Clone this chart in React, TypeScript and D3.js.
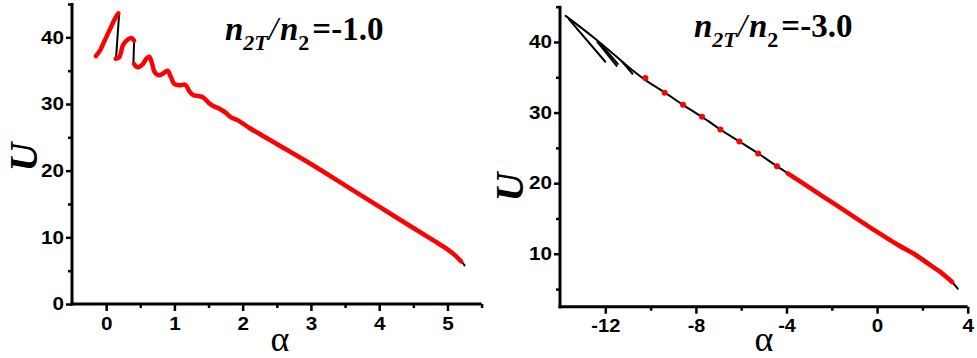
import React, { useRef, useEffect } from "react";
import * as d3 from "d3";

type Pt = [number, number];

const W = 977;
const H = 358;

// left panel (n2T/n2 = -1.0)
const leftRedA: Pt[] = [[-0.15, 37.2], [-0.09, 38.0], [-0.04, 39.1], [0.06, 41.3], [0.13, 42.8], [0.18, 43.6]];
const leftRedB: Pt[] = [[0.14, 36.8], [0.19, 37.0], [0.25, 38.9], [0.32, 39.7], [0.37, 39.9], [0.41, 39.5]];
const leftRedC: Pt[] = [
  [0.41, 36.0], [0.46, 35.5], [0.53, 35.9], [0.59, 36.8], [0.63, 37.1], [0.67, 36.2], [0.71, 34.8],
  [0.77, 34.3], [0.84, 34.6], [0.9, 35.0], [0.95, 34.0], [1.0, 33.0], [1.08, 32.8], [1.16, 32.9],
  [1.22, 31.9], [1.28, 31.3], [1.35, 31.2], [1.42, 31.0], [1.5, 30.2], [1.57, 29.7], [1.66, 29.3],
  [1.75, 28.7], [1.83, 28.0], [1.92, 27.6], [2.0, 27.1], [2.1, 26.4], [2.2, 25.8], [2.3, 25.2],
  [2.55, 23.7], [3.0, 21.0], [3.5, 17.8], [4.0, 14.6], [4.5, 11.4], [4.8, 9.5], [5.0, 8.2],
  [5.1, 7.4], [5.2, 6.4],
];
const leftBlack: Pt[][] = [
  [[0.19, 43.5], [0.145, 36.8]],
  [[0.41, 39.6], [0.4, 36.2]],
  [[5.18, 6.6], [5.22, 6.2], [5.25, 5.8]],
];
const leftXTicks = [0, 1, 2, 3, 4, 5];
const leftXMinor = [0.5, 1.5, 2.5, 3.5, 4.5, 5.5];
const leftYTicks = [0, 10, 20, 30, 40];
const leftYMinor = [5, 15, 25, 35, 45];

// right panel (n2T/n2 = -3.0)
const rightBlack: Pt[][] = [
  [
    [-13.75, 43.7], [-12.5, 40.6], [-11.5, 37.9], [-10.8, 36.0], [-10.23, 34.6], [-9.35, 32.8],
    [-8.57, 31.1], [-7.73, 29.4], [-6.92, 27.6], [-6.08, 25.9], [-5.25, 24.2], [-4.42, 22.4],
    [-3.9, 21.3], [-2, 17.3], [0, 13.1], [2, 9.4], [3.0, 6.9], [3.31, 6.0], [3.45, 5.5], [3.56, 5.05],
  ],
  [[-13.6, 43.2], [-12.0, 37.2]],
  [[-12.35, 40.0], [-11.5, 36.6]],
  [[-12.2, 39.7], [-11.45, 36.9]],
  [[-11.25, 37.2], [-10.8, 35.5]],
];
const rightRed: Pt[] = [
  [-3.95, 21.4], [-3, 19.4], [-2, 17.3], [-1, 15.2], [0, 13.1], [1, 11.1], [1.62, 10.0],
  [2.2, 8.7], [2.8, 7.4], [3.1, 6.6], [3.31, 6.0],
];
const rightDots: Pt[] = [
  [-10.23, 34.9], [-9.38, 32.8], [-8.57, 31.1], [-7.73, 29.4], [-6.92, 27.6], [-6.08, 25.9],
  [-5.25, 24.2], [-4.42, 22.4],
];
const rightXTicks = [-12, -8, -4, 0, 4];
const rightXMinor = [-10, -6, -2, 2];
const rightYTicks = [10, 20, 30, 40];
const rightYMinor = [5, 15, 25, 35, 45];

const RED = "#ff0000";

// widened tick labels like the original plot's stretched font
const labelLength = (s: string) => s.split("").reduce((w, c) => w + (c === "-" ? 6 : 11.5), 0);

const App = () => {
  const ref = useRef<SVGSVGElement>(null);

  useEffect(() => {
    const svg = d3.select(ref.current);
    svg.selectAll("*").remove();
    svg.append("rect").attr("width", W).attr("height", H).attr("fill", "#fff");

    const line = d3.line<Pt>().curve(d3.curveCatmullRom);

    const drawPanel = (p: any) => {
      const x = d3.scaleLinear().domain(p.xDomain).range([p.x0, p.x1]);
      const y = d3.scaleLinear().domain(p.yDomain).range([p.y1, p.y0]);
      line.x((d) => x(d[0])).y((d) => y(d[1]));
      const g = svg.append("g");

      const styleAxis = (a: any) => {
        a.select(".domain").remove();
        a.selectAll(".tick line").attr("stroke", "#000").attr("stroke-width", 2.5);
        a.selectAll("text")
          .attr("font-family", "Liberation Sans, Arial, sans-serif")
          .attr("font-weight", "bold")
          .attr("font-size", 18)
          .attr("fill", "#000")
          .each(function (this: any) {
            const s = this.textContent;
            if (s) d3.select(this).attr("textLength", labelLength(s)).attr("lengthAdjust", "spacingAndGlyphs");
          });
      };

      const xa = g.append("g").attr("transform", `translate(0,${p.y1})`);
      xa.call(d3.axisBottom(x).tickValues(p.xMinor).tickSize(4).tickFormat(() => ""));
      const xb = g.append("g").attr("transform", `translate(0,${p.y1})`);
      xb.call(d3.axisBottom(x).tickValues(p.xTicks).tickSize(7).tickPadding(6).tickFormat((d) => String(d)));
      styleAxis(xa);
      styleAxis(xb);

      const ya = g.append("g").attr("transform", `translate(${p.x0},0)`);
      ya.call(d3.axisLeft(y).tickValues(p.yMinor).tickSize(4).tickFormat(() => ""));
      const yb = g.append("g").attr("transform", `translate(${p.x0},0)`);
      yb.call(d3.axisLeft(y).tickValues(p.yTicks).tickSize(6).tickPadding(2).tickFormat((d) => String(d)));
      styleAxis(ya);
      styleAxis(yb);

      // axis lines
      g.append("line")
        .attr("x1", p.x0).attr("x2", p.x0)
        .attr("y1", p.y0 - 1).attr("y2", p.y1 + 1.5)
        .attr("stroke", "#000").attr("stroke-width", 3);
      g.append("line")
        .attr("x1", p.x0 - 1.5).attr("x2", p.x1)
        .attr("y1", p.y1).attr("y2", p.y1)
        .attr("stroke", "#000").attr("stroke-width", 3);

      g.append("g")
        .selectAll("path")
        .data(p.black)
        .join("path")
        .attr("d", (d: any) => line(d))
        .attr("fill", "none")
        .attr("stroke", "#000")
        .attr("stroke-width", 2)
        .attr("stroke-linecap", "round");

      g.append("g")
        .selectAll("path")
        .data(p.red)
        .join("path")
        .attr("d", (d: any) => line(d))
        .attr("fill", "none")
        .attr("stroke", RED)
        .attr("stroke-width", 4.5)
        .attr("stroke-linejoin", "round")
        .attr("stroke-linecap", "round");

      g.append("g")
        .selectAll("circle")
        .data(p.dots)
        .join("circle")
        .attr("cx", (d: any) => x(d[0]))
        .attr("cy", (d: any) => y(d[1]))
        .attr("r", 3)
        .attr("fill", RED);

      // axis titles
      g.append("text")
        .attr("transform", `translate(${p.uX},${p.uY}) rotate(-90)`)
        .attr("text-anchor", "middle")
        .attr("font-family", "Liberation Serif, Times New Roman, serif")
        .attr("font-weight", "bold")
        .attr("font-style", "italic")
        .attr("font-size", 40)
        .text("U");

      g.append("text")
        .attr("x", p.aX)
        .attr("y", 351)
        .attr("text-anchor", "middle")
        .attr("font-family", "Liberation Serif, Times New Roman, serif")
        .attr("font-size", 36)
        .text("α");

      // title n2T/n2 = value
      const t = g.append("text")
        .attr("x", p.tX)
        .attr("y", p.tY)
        .attr("font-family", "Liberation Serif, Times New Roman, serif")
        .attr("font-weight", "bold")
        .attr("font-size", 33);
      t.append("tspan").attr("font-style", "italic").text("n");
      t.append("tspan").attr("font-style", "italic").attr("font-size", 22).attr("dy", 10).text("2T");
      t.append("tspan").attr("font-weight", "normal").attr("font-style", "italic").attr("dy", -10).attr("dx", 1).text("/");
      t.append("tspan").attr("font-style", "italic").attr("dx", 2).text("n");
      t.append("tspan").attr("font-size", 22).attr("dy", 10).text("2");
      t.append("tspan").attr("dy", -10).attr("dx", 3).text(`=${p.label}`);
    };

    drawPanel({
      x0: 72, x1: 481.6, y0: 4, y1: 304,
      xDomain: [-0.5, 5.5], yDomain: [0, 45],
      xTicks: leftXTicks, xMinor: leftXMinor, yTicks: leftYTicks, yMinor: leftYMinor,
      black: leftBlack, red: [leftRedA, leftRedB, leftRedC], dots: [],
      uX: 37, uY: 157, aX: 280, tX: 225, tY: 40, label: "-1.0",
    });

    drawPanel({
      x0: 560, x1: 967.7, y0: 6.7, y1: 306.7,
      xDomain: [-14, 4], yDomain: [2.5, 45],
      xTicks: rightXTicks, xMinor: rightXMinor, yTicks: rightYTicks, yMinor: rightYMinor,
      black: rightBlack, red: [rightRed], dots: rightDots,
      uX: 523, uY: 187, aX: 764, tX: 694, tY: 37, label: "-3.0",
    });
  }, []);

  return (
    <svg
      ref={ref}
      width={W}
      height={H}
      style={{ position: "absolute", left: 0, top: 0, display: "block" }}
    ></svg>
  );
};

export default App;
